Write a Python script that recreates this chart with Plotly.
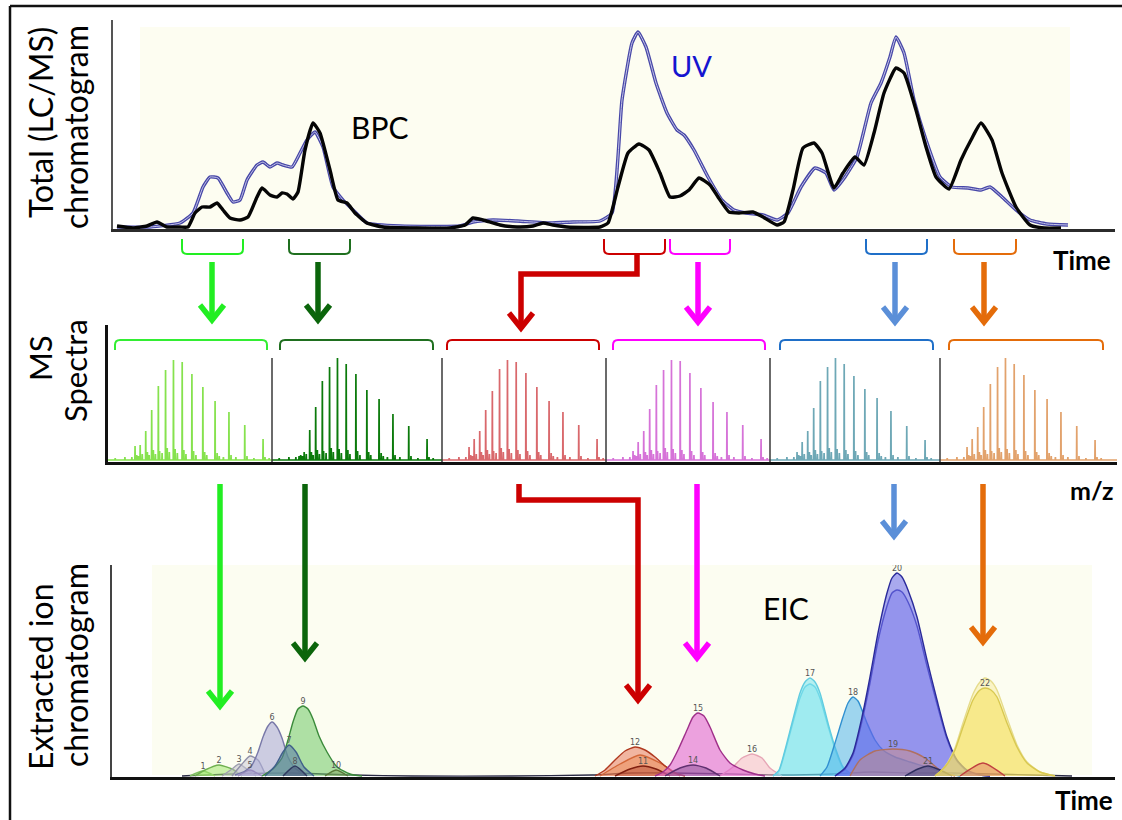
import plotly.graph_objects as go

W, H = 1122, 820


def px(x):
    return x / W


def py(y):
    return 1 - y / H


# ---------------- total chromatogram (time in min, intensity a.u.) ----------------
bpc_t = [0.2, 1.0, 1.7, 2.2, 2.7, 3.35, 3.75, 4.1, 4.45, 4.85, 5.2, 5.5, 5.85, 6.35, 6.75,
         7.2, 7.45, 7.85, 8.2, 8.45, 8.7, 9.0, 9.25, 9.6, 10.0, 10.35, 10.85, 11.25, 11.7,
         12.1, 12.7, 13.5, 15.2, 16.85, 17.6, 18.0, 18.5, 19.35, 20.2, 21.0, 21.5, 22.0,
         22.7, 24.35, 24.75, 25.25, 25.75, 26.3, 26.8, 27.35, 27.85, 28.35, 28.8, 29.3,
         29.85, 30.25, 30.8, 31.3, 32.0, 32.5, 33.2, 33.55, 34.0, 34.5, 35.05, 35.45, 36.05,
         36.5, 37.1, 37.55, 38.05, 38.55, 39.15, 39.55, 40.15, 40.65, 41.15, 41.8, 42.4,
         42.9, 43.4, 43.95, 44.45, 45.15, 45.85, 46.55, 47.4]
bpc_i = [2, 0, 2, 6, 1, 1, 1, 15, 21, 21, 25, 18, 10, 8, 11,
         31, 40, 33, 31, 35, 34, 29, 36, 78, 105, 95, 58, 28, 25,
         15, 5, 1, 0, 0, 3, 10, 8, 3, 1, 2, 5, 3,
         1, 1, 5, 41, 75, 84, 78, 55, 31, 32, 38, 50,
         43, 31, 16, 15, 16, 11, 3, 6, 38, 80, 85, 75, 40,
         55, 71, 63, 95, 135, 160, 155, 118, 81, 51, 39, 68,
         88, 105, 88, 55, 21, 3, 0, 0]

uv_t = [0.2, 1.85, 3.35, 4.0, 4.5, 4.85, 5.25, 5.7, 6.0, 6.35, 6.7, 7.2, 7.5, 7.85, 8.2,
        8.5, 8.95, 9.35, 9.7, 10.1, 10.5, 11.0, 11.5, 12.0, 12.7, 14.35, 17.35, 18.0, 19.0,
        20.2, 21.85, 23.0, 24.35, 24.95, 25.45, 25.95, 26.25, 26.65, 27.15, 27.7, 28.2,
        28.55, 29.05, 29.75, 30.45, 31.05, 31.65, 32.5, 33.2, 33.75, 34.4, 35.1, 35.65,
        36.05, 36.6, 37.2, 37.9, 38.4, 38.85, 39.15, 39.55, 40.05, 40.65, 41.35, 41.95,
        42.75, 43.4, 43.85, 44.45, 45.15, 45.85, 46.7, 47.75]
uv_i = [1, 1, 5, 15, 41, 51, 50, 35, 26, 28, 48, 63, 66, 61, 65,
        63, 61, 75, 88, 96, 81, 41, 28, 18, 5, 2, 2, 6, 8,
        7, 5, 6, 7, 15, 128, 185, 196, 181, 145, 115, 98,
        93, 78, 51, 28, 18, 15, 13, 8, 15, 41, 60, 55,
        38, 51, 71, 125, 145, 171, 191, 175, 128, 88, 51, 41,
        40, 38, 41, 31, 18, 8, 4, 3]

# ---------------- MS spectra (m/z, relative intensity %) ----------------
mz_series = [923, 960, 1000, 1043, 1091, 1143, 1200, 1263, 1333, 1412, 1500, 1600, 1714, 1846]
spec_light_green = [14, 15, 29, 50, 74, 90, 100, 98, 86, 73, 59, 48, 35, 21]
spec_dark_green = [4, 8, 30, 53, 79, 93, 102, 96, 86, 70, 61, 46, 34, 21]
spec_red = [13, 21, 29, 50, 69, 91, 100, 98, 87, 73, 59, 48, 35, 21]
spec_magenta = [9, 18, 29, 51, 75, 90, 100, 99, 87, 72, 58, 48, 35, 21]
spec_blue = [8, 18, 29, 52, 79, 93, 102, 96, 84, 71, 62, 49, 34, 20]
spec_orange = [13, 21, 33, 53, 76, 93, 102, 96, 85, 70, 61, 48, 34, 20]
minor_mz = [780, 850, 900, 935, 948, 975, 1012, 1025, 1055, 1070, 1100, 1118, 1155, 1170,
            1212, 1228, 1275, 1290, 1345, 1362, 1425, 1440, 1515, 1530, 1560, 1615, 1650,
            1730, 1780, 1860, 1890]
minor_i = [2, 3, 3, 5, 4, 6, 8, 5, 10, 6, 9, 7, 12, 8, 11, 7, 10, 6, 9, 5, 8, 5, 7, 4, 3,
           5, 3, 4, 2, 3, 2]

# ---------------- extracted ion chromatograms (time in min, intensity a.u.) ----------------
eic1_t = [3.9, 4.55, 5.15]
eic1_i = [0, 5, 0]
eic2_t = [4.15, 4.65, 5.35, 6.0, 6.5]
eic2_i = [0, 6, 11, 7, 0]
eic3_t = [5.5, 6.0, 6.35, 6.8, 7.2]
eic3_i = [0, 7, 12, 6, 0]
eic4_t = [6.0, 6.5, 6.9, 7.3, 7.7]
eic4_i = [0, 12, 20, 16, 0]
eic5_t = [6.3, 6.9, 7.5]
eic5_i = [0, 6, 0]
eic6_t = [6.15, 6.65, 7.0, 7.3, 7.55, 7.8, 8.0, 8.25, 8.5, 8.8, 9.15, 9.65]
eic6_i = [1, 5, 11, 24, 39, 50, 54, 49, 38, 19, 8, 1]
eic7_t = [7.65, 8.15, 8.55, 8.85, 9.2, 9.6, 10.1]
eic7_i = [0, 10, 24, 31, 24, 9, 0]
eic8_t = [8.55, 9.15, 9.75]
eic8_i = [0, 10, 0]
eic9_t = [7.5, 8.05, 8.5, 8.8, 9.05, 9.3, 9.55, 9.8, 10.05, 10.35, 10.75, 11.25, 11.9, 12.5]
eic9_i = [0, 7, 18, 36, 54, 67, 70, 67, 57, 40, 24, 9, 2, 0]
eic10_t = [10.65, 11.2, 11.8]
eic10_i = [0, 6, 0]
eic11_t = [25.15, 25.9, 26.55, 27.2, 27.9]
eic11_i = [0, 7, 10, 7, 0]
eic12_t = [24.15, 24.65, 25.15, 25.65, 26.15, 26.65, 27.15, 27.65, 28.15, 28.65]
eic12_i = [0, 6, 16, 25, 29, 26, 19, 10, 3, 0]
eic12b_t = [24.4, 25.4, 26.4, 27.4, 28.4]
eic12b_i = [0, 12, 21, 13, 0]
eic14_t = [27.65, 28.4, 29.05, 29.7, 30.4]
eic14_i = [0, 8, 11, 8, 0]
eic15_t = [27.15, 27.55, 27.9, 28.3, 28.75, 29.05, 29.3, 29.6, 29.9, 30.4, 30.9, 31.55, 32.15, 32.65]
eic15_i = [0, 4, 11, 26, 46, 59, 63, 60, 49, 26, 13, 6, 2, 0]
eic16_t = [30.4, 31.05, 31.5, 32.0, 32.5, 32.9, 33.5]
eic16_i = [0, 9, 18, 22, 18, 8, 0]
eic17_t = [33.05, 33.35, 33.65, 34.0, 34.4, 34.65, 34.9, 35.15, 35.4, 35.8, 36.15, 36.55, 37.0]
eic17_i = [0, 6, 26, 53, 83, 94, 98, 94, 83, 53, 29, 9, 1]
eic17_rep_i = [0, 5, 24, 50, 78, 89, 92, 89, 78, 50, 27, 8, 1]
eic18_t = [35.4, 35.75, 36.15, 36.55, 36.8, 37.05, 37.3, 37.75, 38.15, 38.55, 39.15, 39.9, 40.9, 41.9, 42.4]
eic18_i = [0, 9, 33, 59, 73, 79, 75, 53, 36, 26, 19, 14, 8, 2, 0]
eic19_t = [36.9, 37.4, 38.15, 39.05, 39.9, 40.65, 41.4, 42.15]
eic19_i = [0, 16, 25, 27, 25, 18, 6, 0]
eic20_t = [36.15, 36.65, 37.05, 37.5, 37.9, 38.3, 38.75, 39.0, 39.25, 39.5, 39.8, 40.25,
           40.75, 41.25, 41.75, 42.25, 42.75, 43.4, 43.9]
eic20_i = [0, 8, 23, 59, 99, 143, 183, 198, 203, 199, 186, 159, 116, 76, 39, 16, 6, 1, 0]
eic20_rep_i = [0, 7, 21, 55, 93, 135, 170, 183, 186, 184, 174, 150, 110, 72, 37, 15, 5, 1, 0]
eic21_t = [39.65, 40.3, 40.8, 41.4, 42.0]
eic21_i = [0, 7, 10, 6, 0]
eic22_t = [41.15, 41.5, 41.8, 42.15, 42.55, 43.05, 43.4, 43.65, 43.95, 44.25, 44.75, 45.25,
           45.75, 46.4, 47.15]
eic22_i = [0, 6, 13, 26, 49, 76, 86, 88, 86, 79, 53, 29, 13, 4, 0]
eic22_rep_i = [0, 6, 14, 28, 53, 82, 94, 98, 95, 86, 58, 31, 14, 4, 0]
eic22b_t = [42.4, 43.55, 44.65]
eic22b_i = [0, 13, 0]
eic_base_t = [3.5, 6, 9, 12, 15, 20, 24, 26, 28, 31, 33.5, 36, 38, 40, 42, 44, 46, 48]
eic_base_i = [0, 2, 3, 1, 0, 0, 1, 3, 3, 2, 1, 2, 4, 3, 3, 2, 1, 0]

fig = go.Figure()

# ---------------- panel geometry (pixels) ----------------
TOP_X = (113, 1115)
TOP_Y = (20, 229)
SPEC_Y = (325, 462)
SPEC_EDGES = [108, 272, 442, 606, 770, 940, 1117]
EIC_X = (112, 1115)
EIC_Y = (565, 777)
MZ_START = 728
PX_PER_MZ = 0.1387

hidden = dict(showgrid=False, zeroline=False, showticklabels=False, ticks="", fixedrange=True)

layout_axes = {}
layout_axes["xaxis"] = dict(hidden, domain=[px(TOP_X[0]), px(TOP_X[1])], range=[0, 50.1],
                            anchor="y", showline=True, linecolor="#2b2b2b", linewidth=2.5)
layout_axes["yaxis"] = dict(hidden, domain=[py(TOP_Y[1]), py(TOP_Y[0])], range=[-1, 208],
                            anchor="x", showline=True, linecolor="#555555", linewidth=2)

for k in range(6):
    xa = "xaxis%d" % (k + 2)
    ya = "yaxis%d" % (k + 2)
    wpx = SPEC_EDGES[k + 1] - SPEC_EDGES[k]
    layout_axes[xa] = dict(hidden, domain=[px(SPEC_EDGES[k]), px(SPEC_EDGES[k + 1])],
                           range=[MZ_START, MZ_START + wpx / PX_PER_MZ], anchor="y%d" % (k + 2),
                           showline=True, linecolor="#111111", linewidth=3)
    layout_axes[ya] = dict(hidden, domain=[py(SPEC_Y[1]), py(SPEC_Y[0])], range=[-2, 135],
                           anchor="x%d" % (k + 2), showline=(k == 0), linecolor="#111111",
                           linewidth=2.5)

layout_axes["xaxis8"] = dict(hidden, domain=[px(EIC_X[0]), px(EIC_X[1])], range=[0, 50.15],
                             anchor="y8", showline=True, linecolor="#111111", linewidth=3)
layout_axes["yaxis8"] = dict(hidden, domain=[py(EIC_Y[1]), py(EIC_Y[0])], range=[-1, 211],
                             anchor="x8", showline=True, linecolor="#444444", linewidth=1.5)

# ---------------- total chromatogram traces ----------------
smooth = dict(shape="spline", smoothing=0.45)
fig.add_trace(go.Scatter(x=uv_t, y=uv_i, mode="lines",
                         line=dict(color="#3434a0", width=3.4, **smooth),
                         opacity=0.9, xaxis="x", yaxis="y", hoverinfo="skip"))
fig.add_trace(go.Scatter(x=uv_t, y=uv_i, mode="lines",
                         line=dict(color="#c4c4e8", width=1.0, **smooth),
                         xaxis="x", yaxis="y", hoverinfo="skip"))
fig.add_trace(go.Scatter(x=bpc_t, y=bpc_i, mode="lines",
                         line=dict(color="#050505", width=3.4, **smooth),
                         xaxis="x", yaxis="y", hoverinfo="skip"))

# ---------------- spectra ----------------
spectra = [spec_light_green, spec_dark_green, spec_red, spec_magenta, spec_blue, spec_orange]
spec_colors = ["#86e24e", "#0b7a0b", "#d9686c", "#d673d8", "#6ea8b6", "#e2a26c"]
for k, (vals, col) in enumerate(zip(spectra, spec_colors)):
    wpx = SPEC_EDGES[k + 1] - SPEC_EDGES[k]
    peaks = sorted(list(zip(mz_series, vals)) + list(zip(minor_mz, minor_i)))
    xs, ys = [MZ_START], [0]
    for m, h in peaks:
        xs += [m - 1.5, m, m + 1.5]
        ys += [0, h, 0]
    xs.append(MZ_START + wpx / PX_PER_MZ)
    ys.append(0)
    fig.add_trace(go.Scatter(x=xs, y=ys, mode="lines", line=dict(color=col, width=1.7),
                             xaxis="x%d" % (k + 2), yaxis="y%d" % (k + 2), hoverinfo="skip"))

# ---------------- EIC peaks ----------------
eic_peaks = [
    # (t, i, fill, line, label)
    (eic_base_t, eic_base_i, None, "#2a2a44", None),
    (eic1_t, eic1_i, "rgba(150,230,100,0.5)", "#7fc060", "1"),
    (eic2_t, eic2_i, "rgba(160,232,110,0.55)", "#70b050", "2"),
    (eic3_t, eic3_i, "rgba(190,190,200,0.5)", "#a0a0b0", "3"),
    (eic4_t, eic4_i, "rgba(200,200,215,0.5)", "#9090a8", "4"),
    (eic5_t, eic5_i, "rgba(150,120,180,0.4)", "#7a5a9a", "5"),
    (eic6_t, eic6_i, "rgba(172,172,215,0.6)", "#7878a8", "6"),
    (eic9_t, eic9_i, "rgba(110,200,100,0.55)", "#3a8a3a", "9"),
    (eic7_t, eic7_i, "rgba(90,120,170,0.55)", "#40608a", "7"),
    (eic8_t, eic8_i, "rgba(70,80,120,0.5)", "#303a60", "8"),
    (eic10_t, eic10_i, "rgba(120,150,80,0.4)", "#5a7a3a", "10"),
    (eic12b_t, eic12b_i, "rgba(240,150,60,0.4)", "#c06020", None),
    (eic12_t, eic12_i, "rgba(230,110,80,0.5)", "#b03a20", "12"),
    (eic11_t, eic11_i, "rgba(170,60,40,0.4)", "#802010", "11"),
    (eic16_t, eic16_i, "rgba(245,180,195,0.5)", "#e6a6b6", "16"),
    (eic15_t, eic15_i, "rgba(225,100,210,0.6)", "#a0308a", "15"),
    (eic14_t, eic14_i, "rgba(110,60,130,0.4)", "#603070", "14"),
    (eic17_t, eic17_rep_i, "rgba(110,225,240,0.3)", "#70d0e0", None),
    (eic17_t, eic17_i, "rgba(110,225,240,0.5)", "#60cce0", "17"),
    (eic18_t, eic18_i, "rgba(80,180,235,0.55)", "#3090d0", "18"),
    (eic20_t, eic20_rep_i, "rgba(100,100,235,0.3)", "#4040a8", None),
    (eic20_t, eic20_i, "rgba(100,100,235,0.55)", "#2a2a9a", "20"),
    (eic19_t, eic19_i, "rgba(210,140,120,0.45)", "#b07060", "19"),
    (eic21_t, eic21_i, "rgba(60,60,110,0.4)", "#303060", "21"),
    (eic22_t, eic22_rep_i, "rgba(245,225,100,0.3)", "#e6dc8c", None),
    (eic22_t, eic22_i, "rgba(245,225,100,0.6)", "#d8c850", "22"),
    (eic22b_t, eic22b_i, "rgba(220,100,90,0.4)", "#c04040", None),
]
label_t, label_i, label_txt = [], [], []
for t, i, fill, lc, lab in eic_peaks:
    fig.add_trace(go.Scatter(
        x=t, y=i, mode="lines", line=dict(color=lc, width=1.4, shape="spline", smoothing=0.6),
        fill="tozeroy" if fill else None, fillcolor=fill, xaxis="x8", yaxis="y8",
        hoverinfo="skip"))
    if lab:
        j = max(range(len(i)), key=lambda n: i[n])
        label_t.append(t[j])
        label_i.append(i[j])
        label_txt.append(lab)
fig.add_trace(go.Scatter(x=label_t, y=label_i, mode="text", text=label_txt,
                         textposition="top center",
                         textfont=dict(family="DejaVu Sans", size=8, color="#555555"),
                         xaxis="x8", yaxis="y8", hoverinfo="skip"))

# ---------------- decorations ----------------
shapes = []


def line_shape(x0, y0, x1, y1, color, width):
    shapes.append(dict(type="line", xref="paper", yref="paper", x0=px(x0), y0=py(y0),
                       x1=px(x1), y1=py(y1), line=dict(color=color, width=width)))


def path_shape(points, color, width):
    d = "M %f,%f " % (px(points[0][0]), py(points[0][1]))
    d += " ".join("L %f,%f" % (px(a), py(b)) for a, b in points[1:])
    shapes.append(dict(type="path", xref="paper", yref="paper", path=d,
                       line=dict(color=color, width=width)))


def bracket(x1, x2, y_open, y_closed, color, width=2, r=5):
    s = 1 if y_closed > y_open else -1
    d = ("M %f,%f L %f,%f Q %f,%f %f,%f L %f,%f Q %f,%f %f,%f L %f,%f" % (
        px(x1), py(y_open), px(x1), py(y_closed - s * r),
        px(x1), py(y_closed), px(x1 + r), py(y_closed),
        px(x2 - r), py(y_closed),
        px(x2), py(y_closed), px(x2), py(y_closed - s * r),
        px(x2), py(y_open)))
    shapes.append(dict(type="path", xref="paper", yref="paper", path=d,
                       line=dict(color=color, width=width)))


def arrow(points, color, width=5.5, hw=12, hh=15):
    tx, ty = points[-1]
    shaft = points[:-1] + [(tx, ty - 3)]
    path_shape(shaft, color, width)
    path_shape([(tx - hw, ty - hh - 4), (tx, ty - 4), (tx + hw, ty - hh - 4)], color, width)


# plot backgrounds
shapes.append(dict(type="rect", xref="paper", yref="paper", x0=px(140), x1=px(1070),
                   y0=py(228), y1=py(27), fillcolor="#fdfdf1", line=dict(width=0), layer="below"))
shapes.append(dict(type="rect", xref="paper", yref="paper", x0=px(152), x1=px(1092),
                   y0=py(775), y1=py(565), fillcolor="#fcfdf1", line=dict(width=0), layer="below"))

# frame
line_shape(10, 6, 1122, 6, "#111111", 2.5)
line_shape(10, 6, 10, 820, "#111111", 2.5)

# spectrum separators
for e in SPEC_EDGES[1:-1]:
    line_shape(e, 358, e, 462, "#3a3a3a", 1.5)

C_LG, C_DG, C_RED, C_MAG, C_BLU, C_BLU2, C_ORG = (
    "#22ee22", "#0b650b", "#cc0000", "#ff00ff", "#1f6fc8", "#5b8fd8", "#e46c0a")

# time windows under the total chromatogram
for (a, b), col in zip([(182, 243), (289, 350), (604, 665), (670, 730), (866, 927), (954, 1016)],
                       [C_LG, "#1f6f1f", C_RED, C_MAG, C_BLU, C_ORG]):
    bracket(a, b, 239, 254, col)

# spectrum brackets
for (a, b), col in zip([(115, 267), (280, 433), (447, 599), (613, 765), (780, 933), (949, 1103)],
                       ["#33ee33", "#1f6f1f", C_RED, C_MAG, C_BLU, C_ORG]):
    bracket(a, b, 350, 340, col)

# arrows: chromatogram -> spectra
arrow([(212, 262), (212, 324)], C_LG)
arrow([(318, 262), (318, 324)], C_DG)
arrow([(637, 255), (637, 274), (521, 274), (521, 332)], C_RED)
arrow([(698, 262), (698, 326)], C_MAG)
arrow([(895, 262), (895, 326)], C_BLU2)
arrow([(984, 262), (984, 326)], C_ORG)

# arrows: spectra -> EIC
arrow([(220, 484), (220, 710)], C_LG)
arrow([(305, 484), (305, 662)], C_DG)
arrow([(519, 484), (519, 500), (638, 500), (638, 704)], C_RED)
arrow([(697, 484), (697, 662)], C_MAG)
arrow([(894, 484), (894, 540)], C_BLU2)
arrow([(983, 484), (983, 646)], C_ORG)

# ---------------- text ----------------
ann = []


def text(x, y, s, size=28, color="#000000", angle=0, xanchor="center", bold=False):
    ann.append(dict(xref="paper", yref="paper", x=px(x), y=py(y), text=("<b>%s</b>" % s) if bold else s,
                    showarrow=False, textangle=angle, xanchor=xanchor, yanchor="middle",
                    font=dict(family="Lato", size=size, color=color)))


text(40, 123, "Total (LC/MS)", size=32, angle=-90)
text(75, 127, "chromatogram", size=32, angle=-90)
text(40, 358, "MS", size=31, angle=-90)
text(75, 371, "Spectra", size=31, angle=-90)
text(40, 677, "Extracted ion", size=32, angle=-90)
text(75, 665, "chromatogram", size=32, angle=-90)
text(379, 127, "BPC", size=30)
text(692, 66, "UV", size=29, color="#1515d0")
text(786, 608, "EIC", size=30)
text(1113, 260, "Time", size=26, xanchor="right", bold=True)
text(1116, 490, "m/z", size=25, xanchor="right", bold=True)
text(1115, 800, "Time", size=26, xanchor="right", bold=True)

fig.update_layout(
    width=W, height=H, margin=dict(l=0, r=0, t=0, b=0),
    paper_bgcolor="#ffffff", plot_bgcolor="rgba(0,0,0,0)",
    showlegend=False, shapes=shapes, annotations=ann, **layout_axes)

fig.write_html("out.html", config={"displayModeBar": False})
